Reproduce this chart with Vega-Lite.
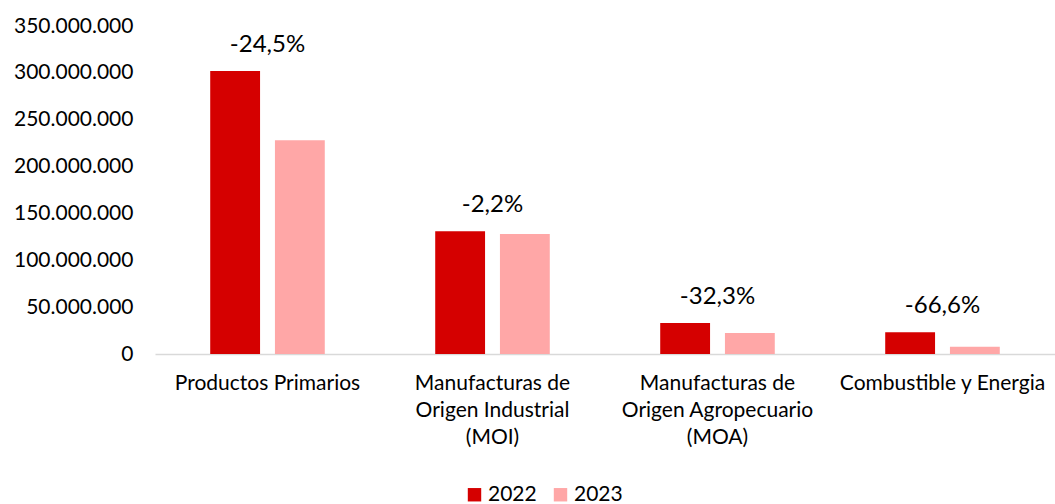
{
  "$schema": "https://vega.github.io/schema/vega-lite/v6.json",
  "width": 900,
  "height": 328,
  "autosize": {"type": "none"},
  "padding": {"left": 155, "top": 26, "right": 0, "bottom": 150},
  "background": "white",
  "config": {
    "locale": {"number": {"decimal": ",", "thousands": ".", "grouping": [3], "currency": ["$", ""]}},
    "view": {"stroke": null},
    "font": "Lato"
  },
  "data": {
    "values": [
      {"category": "Productos Primarios", "year": "2022", "value": 302000000, "pct": "-24,5%"},
      {"category": "Productos Primarios", "year": "2023", "value": 228000000, "pct": ""},
      {"category": "Manufacturas de Origen Industrial (MOI)", "year": "2022", "value": 131000000, "pct": "-2,2%"},
      {"category": "Manufacturas de Origen Industrial (MOI)", "year": "2023", "value": 128000000, "pct": ""},
      {"category": "Manufacturas de Origen Agropecuario (MOA)", "year": "2022", "value": 33000000, "pct": "-32,3%"},
      {"category": "Manufacturas de Origen Agropecuario (MOA)", "year": "2023", "value": 22300000, "pct": ""},
      {"category": "Combustible y Energia", "year": "2022", "value": 23300000, "pct": "-66,6%"},
      {"category": "Combustible y Energia", "year": "2023", "value": 7800000, "pct": ""}
    ]
  },
  "encoding": {
    "x": {
      "field": "category",
      "type": "nominal",
      "sort": null,
      "scale": {"paddingInner": 0, "paddingOuter": 0},
      "axis": {
        "title": null,
        "labelAngle": 0,
        "ticks": false,
        "domainColor": "#d9d9d9",
        "domainWidth": 1.5,
        "labelFontSize": 21,
        "labelColor": "#000000",
        "labelPadding": 18,
        "labelLineHeight": 27,
        "labelBaseline": "top",
        "labelLimit": 400,
        "labelExpr": "datum.value == 'Manufacturas de Origen Industrial (MOI)' ? ['Manufacturas de', 'Origen Industrial', '(MOI)'] : datum.value == 'Manufacturas de Origen Agropecuario (MOA)' ? ['Manufacturas de', 'Origen Agropecuario', '(MOA)'] : datum.value"
      }
    },
    "y": {
      "field": "value",
      "type": "quantitative",
      "scale": {"domain": [0, 350000000], "nice": false},
      "axis": {
        "title": null,
        "values": [0, 50000000, 100000000, 150000000, 200000000, 250000000, 300000000, 350000000],
        "format": ",.0f",
        "grid": false,
        "domain": false,
        "ticks": false,
        "labelFontSize": 21,
        "labelColor": "#000000",
        "labelPadding": 22
      }
    }
  },
  "layer": [
    {
      "mark": {"type": "bar"},
      "encoding": {
        "xOffset": {"field": "year", "type": "nominal", "scale": {"paddingInner": 0.23, "paddingOuter": 0.853}},
        "color": {
          "field": "year",
          "type": "nominal",
          "scale": {"domain": ["2022", "2023"], "range": ["#D50000", "#FFA7A7"]},
          "legend": {
            "title": null,
            "orient": "none",
            "direction": "horizontal",
            "legendX": 309,
            "legendY": 458,
            "symbolType": "square",
            "symbolSize": 180,
            "symbolStrokeWidth": 0,
            "labelFontSize": 21,
            "labelColor": "#000000",
            "columnPadding": 13,
            "labelOffset": 3
          }
        }
      }
    },
    {
      "transform": [{"filter": "datum.year == '2022'"}],
      "mark": {"type": "text", "fontSize": 24, "dy": -26, "color": "#000000"},
      "encoding": {"text": {"field": "pct"}}
    }
  ]
}
